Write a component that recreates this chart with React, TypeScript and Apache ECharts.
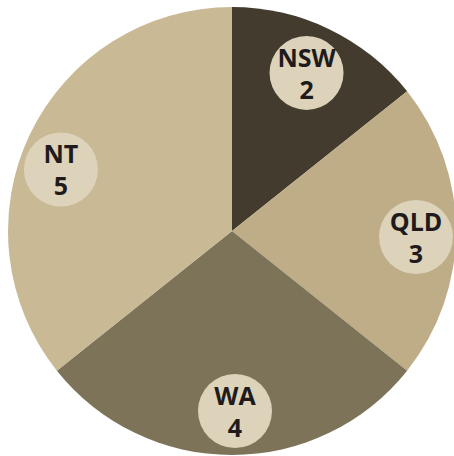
import React, { useEffect, useRef } from "react";
import * as echarts from "echarts";

const categories = ["NSW", "QLD", "WA", "NT"];
const values = [2, 3, 4, 5];
const colors = ["#433b2e", "#bead87", "#7d7358", "#c9b994"];
const labelOffsets = [
  [-4, 5],
  [3, 6],
  [3, -1],
  [-8, 17],
];

export default function App() {
  const ref = useRef<HTMLDivElement>(null);
  useEffect(() => {
    if (!ref.current) return;
    const chart = echarts.init(ref.current, undefined, { renderer: "svg" });
    const data = categories.map((c, i) => ({
      name: c,
      value: values[i],
      itemStyle: { color: colors[i] },
    }));
    chart.setOption({
      animation: false,
      series: [
        {
          type: "pie",
          center: [232, 231],
          radius: 224,
          startAngle: 90,
          clockwise: true,
          silent: true,
          itemStyle: { borderWidth: 0 },
          label: { show: false },
          labelLine: { show: false },
          data,
        },
        {
          type: "pie",
          center: [232, 231],
          radius: [132, 224],
          startAngle: 90,
          clockwise: true,
          silent: true,
          itemStyle: { color: "transparent", borderWidth: 0 },
          labelLine: { show: false },
          label: {
            show: true,
            position: "inside",
            formatter: (p: any) => `${p.name}\n${p.value}`,
            color: "#1f1b1c",
            fontFamily: "Open Sans",
            fontWeight: "bold",
            fontSize: 25,
            lineHeight: 32,
            width: 66,
            align: "center",
            backgroundColor: "#ddd3bb",
            borderRadius: 37,
            padding: [3, 4, 7, 4],
          },
          data: categories.map((c, i) => ({
            name: c,
            value: values[i],
            label: { offset: labelOffsets[i] },
          })),
        },
      ],
    });
    return () => chart.dispose();
  }, []);
  return (
    <div
      ref={ref}
      style={{ position: "fixed", left: 0, top: 0, width: 454, height: 456, background: "#fff" }}
    />
  );
}
